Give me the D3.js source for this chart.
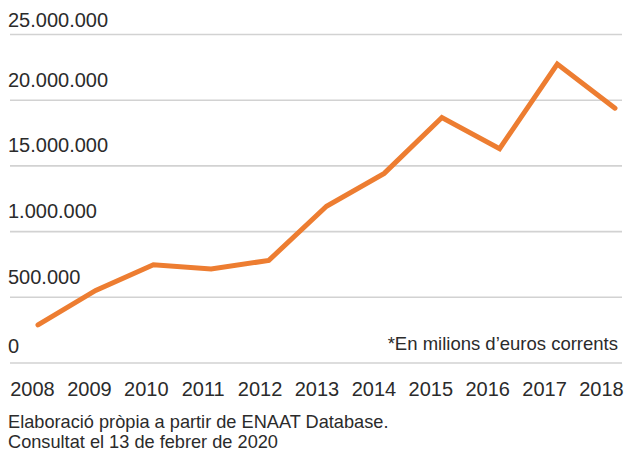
<!DOCTYPE html>
<html>
<head>
<meta charset="utf-8">
<script src="https://cdn.jsdelivr.net/npm/d3@7"></script>
<style>
  html, body { margin: 0; padding: 0; background: #fff; }
  svg { display: block; }
  text { font-family: "Liberation Sans", Arial, sans-serif; fill: #2b2b2b; }
</style>
</head>
<body>
<svg id="chart" width="625" height="451"></svg>
<script>
const years = ["2008","2009","2010","2011","2012","2013","2014","2015","2016","2017","2018"];
const values = [2900000, 5520000, 7480000, 7150000, 7810000, 11930000, 14430000, 18680000, 16310000, 22750000, 19390000];
const tickValues = [0, 5000000, 10000000, 15000000, 20000000, 25000000];
const tickLabels = ["0", "500.000", "1.000.000", "15.000.000", "20.000.000", "25.000.000"];
const note = "*En milions d\u2019euros corrents";
const source = ["Elaboració pròpia a partir de ENAAT Database.", "Consultat el 13 de febrer de 2020"];

const svg = d3.select("#chart");

const y = d3.scaleLinear().domain([0, 25000000]).range([363, 34.5]);
const xLine = d3.scalePoint().domain(years).range([38, 615]);
const xLabel = d3.scalePoint().domain(years).range([32, 601]);

// gridlines
svg.append("g").selectAll("line").data(tickValues).join("line")
  .attr("x1", 10).attr("x2", 622)
  .attr("y1", d => y(d)).attr("y2", d => y(d))
  .attr("stroke", "#d2d2d2").attr("stroke-width", 1.6);

// y labels
svg.append("g").selectAll("text").data(tickValues).join("text")
  .attr("x", 8)
  .attr("y", (d, i) => y(d) - (i === tickValues.length - 1 ? 7.5 : (i === 0 ? 10 : 13.5)))
  .attr("font-size", 20)
  .text((d, i) => tickLabels[i]);

// x labels via axis
const xAxis = d3.axisBottom(xLabel).tickSize(0).tickPadding(0);
const gx = svg.append("g").attr("transform", "translate(0,381)").call(xAxis);
gx.select(".domain").remove();
gx.selectAll("text").attr("font-size", 20).attr("fill", "#2b2b2b")
  .attr("font-family", "Liberation Sans, Arial, sans-serif")
  .attr("dy", "0.76em").attr("y", 0);

// line
const line = d3.line().x((d, i) => xLine(years[i])).y(d => y(d));
svg.append("path").datum(values)
  .attr("d", line)
  .attr("fill", "none")
  .attr("stroke", "#ED7D31")
  .attr("stroke-width", 5)
  .attr("stroke-linejoin", "miter")
  .attr("stroke-linecap", "round");

// note
svg.append("text").attr("x", 618).attr("y", 349.5)
  .attr("text-anchor", "end").attr("font-size", 18.5).text(note);

// source
svg.append("g").selectAll("text").data(source).join("text")
  .attr("x", 8).attr("y", (d, i) => 428 + i * 19.5)
  .attr("font-size", 18.2).text(d => d);
</script>
</body>
</html>
